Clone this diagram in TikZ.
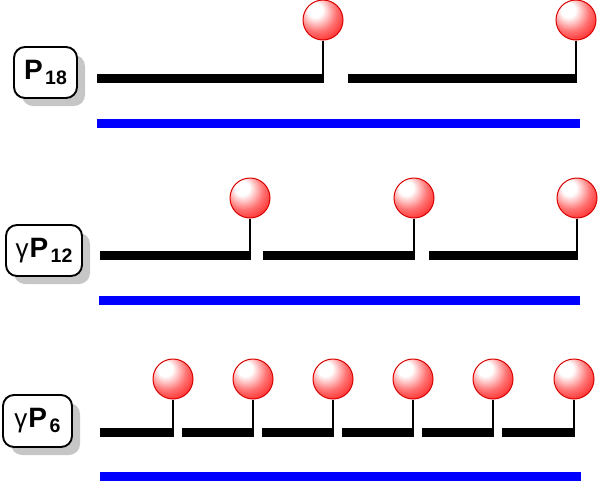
\documentclass[tikz,border=0pt]{standalone}
\usepackage{fontspec}
\setmainfont{Liberation Sans}
\usetikzlibrary{shadows}
\pgfdeclareradialshading{redball}{\pgfpoint{-11bp}{14bp}}{color(0bp)=(white); color(9bp)=(white); color(24bp)=(red!55!white); color(40bp)=(red!92!white); color(62bp)=(red); color(80bp)=(red)}
\newcommand{\bigP}{{\fontsize{28}{28}\selectfont\bfseries P}}
\newcommand{\subnum}[1]{\kern2.5pt\raisebox{-5pt}{\fontsize{19.5}{19.5}\selectfont\bfseries #1}}
\newcommand{\gam}{{\fontsize{26}{26}\selectfont γ}\kern1pt}
\begin{document}
\begin{tikzpicture}[x=1pt,y=-1pt,
  ballnode/.style={circle, minimum size=40pt, inner sep=0pt, draw=red!85!black, line width=1pt, shading=redball},
  stick/.style={line width=2.2pt, black},
  bar/.style={line width=9pt, black},
  bluebar/.style={line width=9pt, blue},
  lbl/.style={draw, rounded corners=11pt, line width=1.9pt, fill=white, inner sep=0pt,
     minimum height=51pt, drop shadow={shadow xshift=8pt, shadow yshift=-8pt, fill=gray!45, opacity=1}}
]
\useasboundingbox (0,0) rectangle (601,482);

% ---------- Row 1 : P18 ----------
\node[lbl, minimum width=63pt] (l1) at (45.5,72.5) {\bigP\subnum{18}};
\coordinate (a1s) at (97,78);  \coordinate (a1e) at (324,78);
\coordinate (a2s) at (348,78); \coordinate (a2e) at (577,78);
\draw[bar] (a1s) -- (a1e);
\draw[bar] (a2s) -- (a2e);
\node[ballnode] (b11) at (323,20) {};
\node[ballnode] (b12) at (576,20) {};
\draw[stick] (b11.south) -- ([xshift=-1pt]a1e);
\draw[stick] (b12.south) -- ([xshift=-1pt]a2e);
\coordinate (u1s) at (97,123); \coordinate (u1e) at (580,123);
\draw[bluebar] (u1s) -- (u1e);

% ---------- Row 2 : gamma P12 ----------
\node[lbl, minimum width=76pt] (l2) at (44,250.5) {\gam\bigP\subnum{12}};
\coordinate (c1s) at (100,255); \coordinate (c1e) at (251,255);
\coordinate (c2s) at (263,255); \coordinate (c2e) at (415,255);
\coordinate (c3s) at (429,255); \coordinate (c3e) at (578,255);
\draw[bar] (c1s) -- (c1e);
\draw[bar] (c2s) -- (c2e);
\draw[bar] (c3s) -- (c3e);
\node[ballnode] (b21) at (250,198) {};
\node[ballnode] (b22) at (414,198) {};
\node[ballnode] (b23) at (577,198) {};
\draw[stick] (b21.south) -- ([xshift=-1pt]c1e);
\draw[stick] (b22.south) -- ([xshift=-1pt]c2e);
\draw[stick] (b23.south) -- ([xshift=-1pt]c3e);
\coordinate (u2s) at (99,300); \coordinate (u2e) at (580,300);
\draw[bluebar] (u2s) -- (u2e);

% ---------- Row 3 : gamma P6 ----------
\node[lbl, minimum width=69pt, minimum height=52pt] (l3) at (37.5,421) {\gam\bigP\subnum{6}};
\coordinate (d1s) at (100,432); \coordinate (d1e) at (174,432);
\coordinate (d2s) at (182,432); \coordinate (d2e) at (254,432);
\coordinate (d3s) at (262,432); \coordinate (d3e) at (334,432);
\coordinate (d4s) at (342,432); \coordinate (d4e) at (414,432);
\coordinate (d5s) at (422,432); \coordinate (d5e) at (494,432);
\coordinate (d6s) at (502,432); \coordinate (d6e) at (575,432);
\foreach \i in {1,...,6} { \draw[bar] (d\i s) -- (d\i e); }
\node[ballnode] (b31) at (173,379) {};
\node[ballnode] (b32) at (253,379) {};
\node[ballnode] (b33) at (333,379) {};
\node[ballnode] (b34) at (413,379) {};
\node[ballnode] (b35) at (493,379) {};
\node[ballnode] (b36) at (574,379) {};
\foreach \i in {1,...,6} { \draw[stick] (b3\i.south) -- ([xshift=-1pt]d\i e); }
\coordinate (u3s) at (100,476); \coordinate (u3e) at (581,476);
\draw[bluebar] (u3s) -- (u3e);
\end{tikzpicture}
\end{document}
